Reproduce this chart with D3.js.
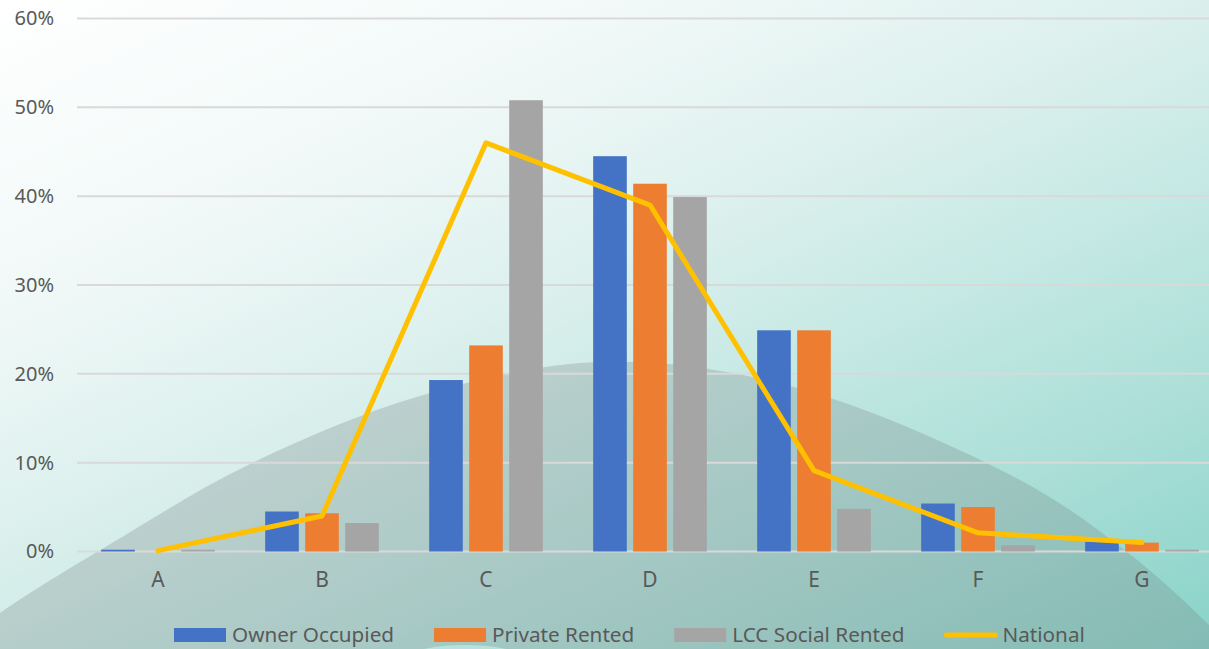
<!DOCTYPE html>
<html>
<head>
<meta charset="utf-8">
<script src="https://cdn.jsdelivr.net/npm/d3@7"></script>
<style>
  html, body { margin: 0; padding: 0; background: #fff; }
  svg { display: block; font-family: "Noto Sans", "DejaVu Sans", sans-serif; }
</style>
</head>
<body>
<svg id="chart" width="1209" height="649"></svg>
<script>
// ---- data ----
const categories = ["A", "B", "C", "D", "E", "F", "G"];
const seriesNames = ["Owner Occupied", "Private Rented", "LCC Social Rented"];
const ownerOccupied   = [0.002, 0.045, 0.193, 0.445, 0.249, 0.054, 0.011];
const privateRented   = [0.000, 0.043, 0.232, 0.414, 0.249, 0.050, 0.010];
const lccSocialRented = [0.002, 0.032, 0.508, 0.399, 0.048, 0.007, 0.002];
const national        = [0.001, 0.040, 0.460, 0.390, 0.091, 0.021, 0.010];
const lineName = "National";
const yTicks = [0, 0.1, 0.2, 0.3, 0.4, 0.5, 0.6];

const barSeries = [ownerOccupied, privateRented, lccSocialRented];
const colors = ["#4472C4", "#ED7D31", "#A5A5A5"];
const lineColor = "#FFC000";

const W = 1209, H = 649;
const svg = d3.select("#chart");
const defs = svg.append("defs");

// background gradient
const bg = defs.append("linearGradient").attr("id", "bg")
  .attr("gradientUnits", "userSpaceOnUse")
  .attr("x1", 0).attr("y1", 0).attr("x2", 452).attr("y2", 993);
[[0, "#ffffff"], [0.25, "#f1f9f8"], [0.45, "#dcf0ed"], [0.6, "#c6e9e4"],
 [0.8, "#a9ded7"], [0.96, "#8fd5cb"], [1, "#89d2c8"]]
  .forEach(([o, c]) => bg.append("stop").attr("offset", o).attr("stop-color", c));

svg.append("rect").attr("width", W).attr("height", H).attr("fill", "url(#bg)");

// decorative arc shape
const arcPts = [[-60, 660], [0, 613], [117, 540], [250, 464], [420, 396],
  [600, 362], [790, 386], [1020, 480], [1127, 552], [1209, 625], [1260, 680]];
svg.append("path")
  .attr("d", d3.line().curve(d3.curveCatmullRom.alpha(0.5))(arcPts) + "L1260,720L-60,720Z")
  .attr("fill", "rgba(120,128,128,0.28)");
svg.append("ellipse").attr("cx", 465).attr("cy", 690).attr("rx", 100).attr("ry", 45)
  .attr("fill", "url(#bg)");

// scales
const x0 = d3.scaleBand().domain(categories).range([76, 1224])
  .paddingInner(0.307).paddingOuter(0.1535);
const x1 = d3.scaleBand().domain(d3.range(barSeries.length))
  .range([0, x0.bandwidth()]).paddingInner(0.16);
const y = d3.scaleLinear().domain([0, 0.6]).range([551.5, 18.5]);

// gridlines
svg.append("g").selectAll("line").data(yTicks).join("line")
  .attr("x1", 77).attr("x2", W)
  .attr("y1", d => y(d)).attr("y2", d => y(d))
  .attr("stroke", "#d9d9d9").attr("stroke-width", 2);

// y axis labels
const yAxis = d3.axisLeft(y).tickValues(yTicks).tickFormat(d3.format(".0%")).tickSize(0).tickPadding(0);
const gy = svg.append("g").attr("transform", "translate(54,0)").call(yAxis);
gy.select(".domain").remove();
gy.selectAll("text").attr("font-size", 20).attr("fill", "#595959")
  .attr("font-family", "Noto Sans");

// bars
const groups = svg.append("g").selectAll("g").data(categories).join("g")
  .attr("transform", c => `translate(${x0(c)},0)`);
groups.selectAll("rect")
  .data((c, i) => barSeries.map((s, k) => ({ k, v: s[i] })))
  .join("rect")
  .attr("x", d => x1(d.k))
  .attr("width", x1.bandwidth())
  .attr("y", d => y(d.v))
  .attr("height", d => y(0) - y(d.v))
  .attr("fill", d => colors[d.k]);

// x axis labels
const xAxis = d3.axisBottom(x0).tickSize(0).tickPadding(0);
const gx = svg.append("g").attr("transform", "translate(0,572)").call(xAxis);
gx.select(".domain").remove();
gx.selectAll("text").attr("font-size", 21).attr("fill", "#595959")
  .attr("font-family", "Noto Sans");

// national line
const cx = c => x0(c) + x0.bandwidth() / 2;
svg.append("path")
  .datum(national)
  .attr("d", d3.line().x((d, i) => cx(categories[i])).y(d => y(d)))
  .attr("fill", "none").attr("stroke", lineColor).attr("stroke-width", 5)
  .attr("stroke-linecap", "round").attr("stroke-linejoin", "round");

// legend
const legend = svg.append("g");
let lx = 174;
const ly = 635;
const items = seriesNames.map((n, k) => ({ name: n, type: "rect", color: colors[k] }))
  .concat([{ name: lineName, type: "line", color: lineColor }]);
items.forEach(it => {
  if (it.type === "rect") {
    legend.append("rect").attr("x", lx).attr("y", ly - 7).attr("width", 52).attr("height", 14)
      .attr("fill", it.color);
  } else {
    legend.append("line").attr("x1", lx + 2).attr("x2", lx + 51).attr("y1", ly).attr("y2", ly)
      .attr("stroke", it.color).attr("stroke-width", 5).attr("stroke-linecap", "round");
  }
  const t = legend.append("text").attr("x", lx + 58).attr("y", ly).attr("dy", "0.35em")
    .attr("font-size", 20.7).attr("fill", "#595959").text(it.name);
  lx += 58 + t.node().getComputedTextLength() + 40;
});
</script>
</body>
</html>
